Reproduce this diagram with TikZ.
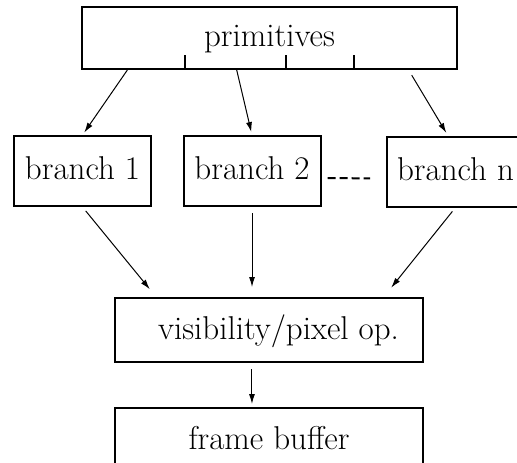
\documentclass[tikz,border=0pt]{standalone}
\usetikzlibrary{calc,arrows.meta}
\begin{document}
\begin{tikzpicture}
		[x=0.5pt,y=-0.5pt,
		mybox/.style={draw,line width=1pt,inner sep=0pt,text depth=0.25em,font=\fontsize{16.5}{20}\selectfont},
		branchbox/.style={mybox,minimum width=68.5pt,minimum height=35pt},
		myarrow/.style={line width=0.5pt,-{Latex[length=5pt,width=3pt]},shorten >=1.5pt}]
		\clip (0,0) rectangle (517,462);
		\node[mybox,name=prim,minimum width=187.5pt,minimum height=31pt] at (269.5,38) {primitives};
		\foreach \x in {185,286,354}
		{
			\draw[line width=1pt] (\x,69) -- (\x,55);
		}
		\node[branchbox,name=b1] at (82.5,171) {branch 1};
		\node[branchbox,name=b2] at (252,171) {branch 2};
		\node[branchbox,name=bn] at (455.5,171.5) {branch n};
		\node[mybox,name=vis,minimum width=154pt,minimum height=32pt] at (269,330) {\hspace*{9.5pt}visibility/pixel op.};
		\node[mybox,name=fb,minimum width=154pt,minimum height=32pt] at (269,440) {frame buffer};
		\draw[myarrow] ($(prim.south west)!0.123!(prim.south east)$) -- (b1.north);
		\draw[myarrow] ($(prim.south west)!0.413!(prim.south east)$) -- (b2.north);
		\draw[myarrow,shorten <=3pt] ($(prim.south west)!0.869!(prim.south east)$) -- ($(bn.north west)!0.445!(bn.north east)$);
		\draw[line width=1pt,dashed,dash pattern=on 4pt off 2pt,shorten <=3pt,shorten >=8pt] ([yshift=-3.5pt]b2.east) -- ([yshift=-3.5pt]bn.west);
		\draw[myarrow,shorten <=2.5pt,shorten >=5pt] (b1.south) -- ($(vis.north west)!0.136!(vis.north east)$);
		\draw[myarrow,shorten <=3pt,shorten >=5pt] (b2.south) -- (b2.south |- vis.north);
		\draw[myarrow,shorten <=2.5pt,shorten >=6pt] (bn.south) -- ($(vis.north west)!0.87!(vis.north east)$);
		\draw[myarrow,shorten <=3pt] ($(vis.south west)!0.445!(vis.south east)$) -- ($(fb.north west)!0.445!(fb.north east)$);
	\end{tikzpicture}
\end{document}
